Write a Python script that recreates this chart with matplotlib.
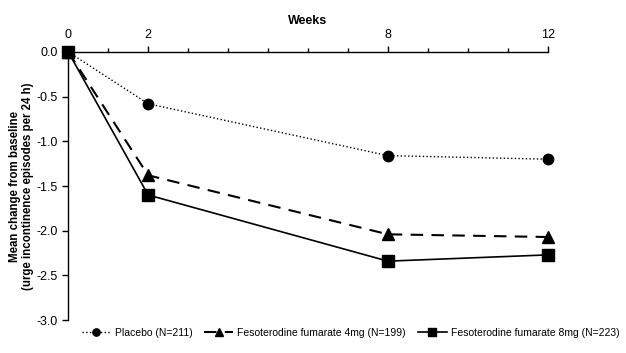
import matplotlib
matplotlib.use("Agg")
import matplotlib.pyplot as plt
from matplotlib.ticker import MultipleLocator

plt.rcParams['font.family'] = ['Liberation Sans', 'DejaVu Sans']

weeks = [0, 2, 8, 12]
placebo = [0.0, -0.58, -1.16, -1.20]
feso_4mg = [0.0, -1.38, -2.04, -2.07]
feso_8mg = [0.0, -1.60, -2.34, -2.27]
labels = ['Placebo (N=211)', 'Fesoterodine fumarate 4mg (N=199)', 'Fesoterodine fumarate 8mg (N=223)']

fig = plt.figure(figsize=(6.26, 3.53), dpi=100)
ax = fig.add_axes([0.109, 0.093, 0.766, 0.76])

ax.plot(weeks, placebo, color='black', ls=':', lw=1, marker='o', ms=7.5, label=labels[0])
ax.plot(weeks, feso_4mg, color='black', ls=(0, (6, 4)), lw=1.5, marker='^', ms=8.5, label=labels[1])
ax.plot(weeks, feso_8mg, color='black', ls='-', lw=1.2, marker='s', ms=8, label=labels[2])

ax.set_xlim(0, 12)
ax.set_ylim(-3.0, 0.0)
ax.xaxis.tick_top()
ax.xaxis.set_label_position('top')
ax.set_xticks(weeks)
ax.xaxis.set_minor_locator(MultipleLocator(1))
ax.yaxis.set_major_locator(MultipleLocator(0.5))
ax.set_yticklabels([f'{v:.1f}' for v in ax.get_yticks()])
ax.tick_params(axis='both', direction='out', labelsize=9, length=4, width=1)
ax.tick_params(axis='x', which='minor', direction='out', length=3, width=1)
ax.set_xlabel('Weeks', fontsize=9, fontweight='bold', labelpad=4)
ax.set_ylabel('Mean change from baseline\n(urge incontinence episodes per 24 h)',
              fontsize=8.3, fontweight='bold', labelpad=2, linespacing=1.1)

for side in ['bottom', 'right']:
    ax.spines[side].set_visible(False)
for side in ['top', 'left']:
    ax.spines[side].set_linewidth(1)
for line in ax.lines:
    line.set_clip_on(False)

fig.legend(loc='center', bbox_to_anchor=(0.56, 0.057), ncol=3, frameon=False,
           fontsize=7.5, handlelength=2.8, columnspacing=1.1, handletextpad=0.4,
           markerscale=0.7, borderpad=0, borderaxespad=0)

fig.savefig('out.png', dpi=100)
